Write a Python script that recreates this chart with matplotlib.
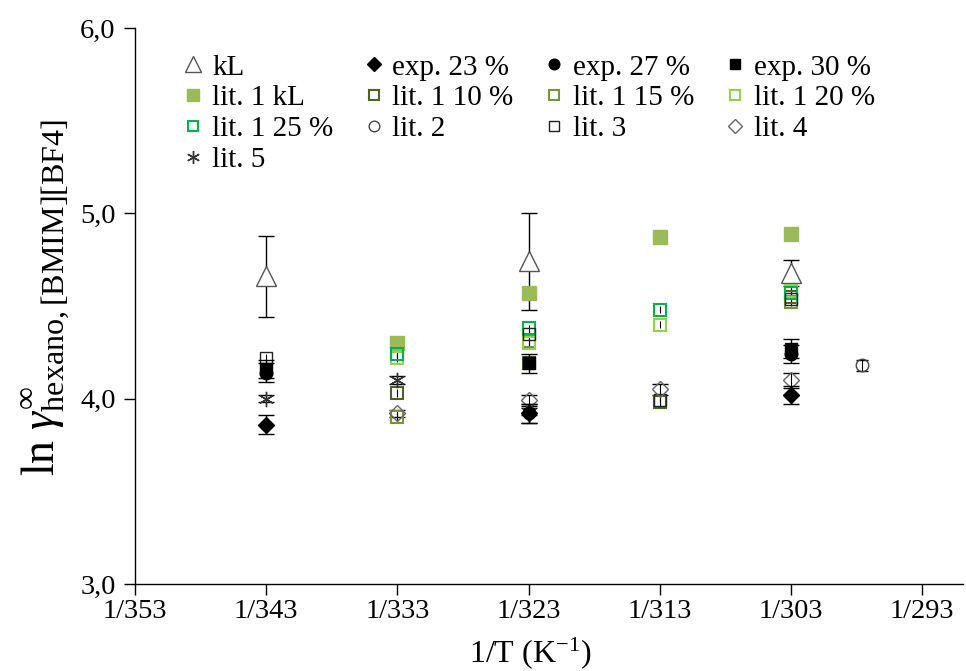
import matplotlib
matplotlib.use("Agg")
import matplotlib.pyplot as plt

plt.rcParams['font.family'] = ['Liberation Serif', 'DejaVu Serif']
plt.rcParams['mathtext.fontset'] = 'custom'
plt.rcParams['mathtext.rm'] = 'Liberation Serif'
plt.rcParams['mathtext.it'] = 'Liberation Serif:italic'

# Temperatures (K) and ln(gamma_inf) of hexane in [BMIM][BF4]
T_kl = [343, 323, 303]
y_kl = [4.66, 4.74, 4.68]
e_kl = [0.22, 0.26, 0.07]

T_exp = [343, 323, 303]
y_exp23 = [3.86, 3.92, 4.02]
y_exp27 = [4.14, 3.92, 4.24]
y_exp30 = [4.16, 4.19, 4.27]
e_exp = [0.05, 0.05, 0.05]

T_lit1 = [333, 323, 313, 303]
y_lit1_kl = [4.30, 4.57, 4.87, 4.89]
y_lit1_10 = [4.03, 4.19, 3.98, 4.55]
T_lit1_15 = [333, 323, 303]
y_lit1_15 = [3.90, 4.31, 4.52]
y_lit1_20 = [4.22, 4.30, 4.40, 4.58]
y_lit1_25 = [4.24, 4.38, 4.48, 4.57]

T_lit2 = [297.6]
y_lit2 = [4.18]
e_lit2 = [0.03]

T_lit3 = [343, 323, 313, 303]
y_lit3 = [4.22, 4.35, 3.99, 4.54]

T_lit4 = [333, 323, 313, 303]
y_lit4 = [3.92, 3.99, 4.05, 4.10]
e_lit4 = [0.02, 0.03, 0.03, 0.04]

T_lit5 = [343, 333, 323]
y_lit5 = [4.00, 4.10, 3.93]
e_lit5 = [0.02, 0.02, 0.02]

x_ticks = [353, 343, 333, 323, 313, 303, 293]
x_labels = ["1/353", "1/343", "1/333", "1/323", "1/313", "1/303", "1/293"]
y_ticks = [3.0, 4.0, 5.0, 6.0]
y_labels = ["3,0", "4,0", "5,0", "6,0"]

c_lit1_kl = "#9BBB59"
c_lit1_10 = "#4F6228"
c_lit1_15 = "#77933C"
c_lit1_20 = "#92D050"
c_lit1_25 = "#00B050"

fig = plt.figure(figsize=(9.66, 6.71), dpi=100)
ax = fig.add_axes([0.1398, 0.1297, 0.857, 0.8286])

eb = dict(ecolor="black", elinewidth=1.0, capsize=6, capthick=1.0, linestyle="none")
small_eb = dict(ecolor="black", elinewidth=0.8, capsize=0, linestyle="none")

handles = {}
handles['kL'] = ax.errorbar(T_kl, y_kl, yerr=e_kl, marker="^", ms=14, mfc="white",
                            mec="#555555", mew=1.0, zorder=3, **eb)
handles['exp23'] = ax.errorbar(T_exp, y_exp23, yerr=e_exp, marker="D", ms=8, mfc="black",
                               mec="black", zorder=4, **eb)
handles['exp27'] = ax.errorbar(T_exp, y_exp27, yerr=e_exp, marker="o", ms=9, mfc="black",
                               mec="black", zorder=4, **eb)
handles['exp30'] = ax.errorbar(T_exp, y_exp30, yerr=e_exp, marker="s", ms=8.5, mfc="black",
                               mec="black", zorder=4, **eb)
handles['lit1kl'] = ax.errorbar(T_lit1, y_lit1_kl, yerr=[0.01] * 4, marker="s", ms=9.5,
                                mfc=c_lit1_kl, mec=c_lit1_kl, zorder=3, **small_eb)
handles['lit1_10'] = ax.errorbar(T_lit1, y_lit1_10, yerr=[0.02] * 4, marker="s", ms=8.5,
                                 mfc="none", mec=c_lit1_10, mew=1.5, zorder=3, **small_eb)
handles['lit1_15'] = ax.errorbar(T_lit1_15, y_lit1_15, yerr=[0.02] * 3, marker="s", ms=8.5,
                                 mfc="none", mec=c_lit1_15, mew=1.5, zorder=3, **small_eb)
handles['lit1_20'] = ax.errorbar(T_lit1, y_lit1_20, yerr=[0.02] * 4, marker="s", ms=8.5,
                                 mfc="none", mec=c_lit1_20, mew=1.5, zorder=3, **small_eb)
handles['lit1_25'] = ax.errorbar(T_lit1, y_lit1_25, yerr=[0.02] * 4, marker="s", ms=8.5,
                                 mfc="none", mec=c_lit1_25, mew=1.5, zorder=3, **small_eb)
handles['lit2'] = ax.errorbar(T_lit2, y_lit2, yerr=e_lit2, marker="o", ms=9, mfc="none",
                              mec="#444444", mew=1.0, zorder=3,
                              ecolor="black", elinewidth=0.8, capsize=4, capthick=0.8, linestyle="none")
handles['lit3'] = ax.errorbar(T_lit3, y_lit3, yerr=[0.02] * 4, marker="s", ms=8.5, mfc="none",
                              mec="#222222", mew=1.0, zorder=3, **small_eb)
handles['lit4'] = ax.errorbar(T_lit4, y_lit4, yerr=e_lit4, marker="D", ms=8, mfc="none",
                              mec="#666666", mew=1.0, zorder=3,
                              ecolor="black", elinewidth=0.8, capsize=6, capthick=0.8, linestyle="none")
handles['lit5'] = ax.errorbar(T_lit5, y_lit5, yerr=e_lit5, marker=(6, 2, 0), ms=11,
                              mfc="none", mec="#333333", mew=1.0, zorder=3,
                              ecolor="black", elinewidth=0.8, capsize=6, capthick=0.8, linestyle="none")

labels = {
    'kL': "kL", 'exp23': "exp. 23 %", 'exp27': "exp. 27 %", 'exp30': "exp. 30 %",
    'lit1kl': "lit. 1 kL", 'lit1_10': "lit. 1 10 %", 'lit1_15': "lit. 1 15 %",
    'lit1_20': "lit. 1 20 %", 'lit1_25': "lit. 1 25 %", 'lit2': "lit. 2",
    'lit3': "lit. 3", 'lit4': "lit. 4", 'lit5': "lit. 5",
}
# column-major order so that the legend reads row by row
order = ['kL', 'lit1kl', 'lit1_25', 'lit5',
         'exp23', 'lit1_10', 'lit2',
         'exp27', 'lit1_15', 'lit3',
         'exp30', 'lit1_20', 'lit4']
leg_handles = [handles[k][0] for k in order]
leg = ax.legend(leg_handles, [labels[k] for k in order], ncol=4, loc="upper left",
                bbox_to_anchor=(0.0454, 0.974), frameon=False, fontsize=21,
                handlelength=0.6, handletextpad=0.35, columnspacing=1.08,
                labelspacing=0.15, borderaxespad=0.0, markerscale=0.85)

ax.set_xlim(353, 289.9)
ax.set_ylim(3.0, 6.0)
ax.set_xticks(x_ticks)
ax.set_xticklabels(x_labels)
ax.set_yticks(y_ticks)
ax.set_yticklabels(y_labels)
ax.tick_params(axis="both", labelsize=20.5, direction="out", length=8, width=1.0, color="black")
ax.tick_params(axis="x", pad=3)
ax.tick_params(axis="y", pad=6)

for side in ("top", "right"):
    ax.spines[side].set_visible(False)
for side in ("left", "bottom"):
    ax.spines[side].set_linewidth(1.0)
    ax.spines[side].set_color("black")

ax.set_xlabel(r"1/T (K$^{-1}$)", fontsize=23)
ax.xaxis.set_label_coords(0.477, -0.092)
ax.set_ylabel(r"$\ln\,\gamma^{\infty}_{\mathrm{hexano,[BMIM][BF4]}}$", fontsize=33)
ax.yaxis.set_label_coords(-0.075, 0.516)

fig.savefig("out.png", dpi=100)
